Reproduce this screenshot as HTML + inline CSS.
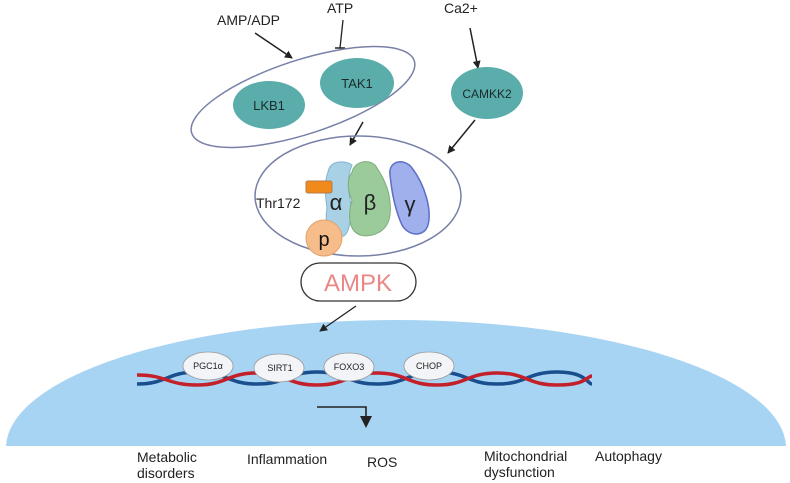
<!DOCTYPE html>
<html><head><meta charset="utf-8"><style>html,body{margin:0;background:#fff;width:790px;height:483px;overflow:hidden}svg{display:block}text{font-family:"Liberation Sans",sans-serif}</style></head><body>
<svg width="790" height="483" viewBox="0 0 790 483" xmlns="http://www.w3.org/2000/svg">
<defs><marker id="a" markerWidth="8" markerHeight="8" refX="7" refY="4" orient="auto" markerUnits="userSpaceOnUse"><path d="M0,0 L8,4 L0,8 Z" fill="#222"/></marker>
<clipPath id="c"><rect x="0" y="0" width="790" height="446"/></clipPath></defs>
<ellipse cx="396" cy="448" rx="390" ry="128" fill="#a8d4f4" clip-path="url(#c)"/>
<text x="217" y="25" font-size="14" fill="#222">AMP/ADP</text>
<text x="327" y="13" font-size="14" fill="#222">ATP</text>
<text x="444" y="13" font-size="14" fill="#222">Ca2+</text>
<line x1="255" y1="33" x2="292" y2="58" stroke="#222" stroke-width="1.5" marker-end="url(#a)"/>
<line x1="343" y1="20" x2="340" y2="48" stroke="#222" stroke-width="1.3"/><line x1="335" y1="48" x2="345" y2="48" stroke="#222" stroke-width="1.5"/>
<line x1="470" y1="28" x2="478" y2="68" stroke="#222" stroke-width="1.5" marker-end="url(#a)"/>
<ellipse cx="303" cy="97" rx="117" ry="37" transform="rotate(-18 303 97)" fill="none" stroke="#7880a8" stroke-width="1.5"/>
<ellipse cx="269" cy="105" rx="36" ry="24" fill="#5aadab"/><text x="269" y="110" font-size="13" text-anchor="middle" fill="#1c2a2a">LKB1</text>
<ellipse cx="357" cy="83" rx="37" ry="25" fill="#5aadab"/><text x="357" y="88" font-size="13" text-anchor="middle" fill="#1c2a2a">TAK1</text>
<ellipse cx="487" cy="93" rx="36" ry="26" fill="#5aadab"/><text x="487" y="98" font-size="12" text-anchor="middle" fill="#1c2a2a">CAMKK2</text>
<line x1="363" y1="122" x2="350" y2="145" stroke="#222" stroke-width="1.5" marker-end="url(#a)"/>
<line x1="475" y1="120" x2="448" y2="153" stroke="#222" stroke-width="1.5" marker-end="url(#a)"/>
<ellipse cx="358" cy="196" rx="103" ry="60" fill="none" stroke="#7880a8" stroke-width="1.5"/>
<path d="M328,172 C330,160 345,160 352,165 C345,180 350,200 352,210 C350,225 348,240 338,236 C326,232 325,220 327,208 C325,195 324,182 328,172Z" fill="#a9d1e6" stroke="#7fb4d0"/>
<path d="M352,172 C355,160 372,158 377,168 C385,180 392,195 390,215 C388,232 372,238 360,235 C348,230 348,215 352,200 C346,188 348,178 352,172Z" fill="#9bcb9b" stroke="#7aac7a"/>
<path d="M390,175 C388,160 405,158 412,168 C425,185 432,210 428,225 C424,238 408,236 402,225 C396,212 392,195 390,175Z" fill="#9fb0ec" stroke="#5d6fc6" stroke-width="1.5"/>
<rect x="306" y="181" width="26" height="12" rx="2" fill="#f08a1a" stroke="#b57a4a"/>
<circle cx="324" cy="238" r="18" fill="#f6bd8a" stroke="#e3a06a"/>
<text x="324" y="246" font-size="20" text-anchor="middle" fill="#111">p</text>
<text x="256" y="208" font-size="14" fill="#222">Thr172</text>
<text x="336" y="210" font-size="22" text-anchor="middle" fill="#222">α</text>
<text x="370" y="210" font-size="22" text-anchor="middle" fill="#222">β</text>
<text x="410" y="212" font-size="22" text-anchor="middle" fill="#222">γ</text>
<rect x="301" y="263" width="115" height="38" rx="19" fill="#fff" stroke="#333" stroke-width="1.3"/>
<text x="358" y="291" font-size="24" text-anchor="middle" fill="#ea8686">AMPK</text>
<line x1="356" y1="306" x2="320" y2="331" stroke="#222" stroke-width="1.3" marker-end="url(#a)"/>
<path d="M137,384 C167,384 167,372 197,372 S227,384 257,384 S287,372 317,372 S347,384 377,384 S407,372 437,372 S467,384 497,384 S527,372 557,372 S587,384 592,384" fill="none" stroke="#1a4f8e" stroke-width="3.5"/>
<path d="M137,375 C167,375 167,385 197,385 S227,373 257,373 S287,385 317,385 S347,373 377,373 S407,385 437,385 S467,373 497,373 S527,385 557,385 S587,376 592,376" fill="none" stroke="#c4202a" stroke-width="3.5"/>
<g stroke="#999" stroke-width="0.8">
<ellipse cx="208" cy="366" rx="25" ry="14" fill="#f2f4f8"/><ellipse cx="279" cy="368" rx="25" ry="14" fill="#f2f4f8"/><ellipse cx="349" cy="367" rx="25" ry="14" fill="#f2f4f8"/><ellipse cx="429" cy="366" rx="25" ry="14" fill="#f2f4f8"/>
</g>
<g font-size="9" fill="#222" text-anchor="middle">
<text x="208" y="369">PGC1α</text><text x="280" y="371">SIRT1</text><text x="349" y="370">FOXO3</text><text x="429" y="369">CHOP</text>
</g>
<path d="M317,407 L366,407 L366,418" fill="none" stroke="#222" stroke-width="1.6"/>
<path d="M360,416 L372,416 L366,428 Z" fill="#222"/>
<g font-size="14" fill="#222">
<text x="137" y="462">Metabolic</text><text x="137" y="478">disorders</text>
<text x="247" y="464">Inflammation</text>
<text x="367" y="467">ROS</text>
<text x="484" y="461">Mitochondrial</text><text x="484" y="477">dysfunction</text>
<text x="595" y="461">Autophagy</text>
</g>
</svg>
</body></html>
